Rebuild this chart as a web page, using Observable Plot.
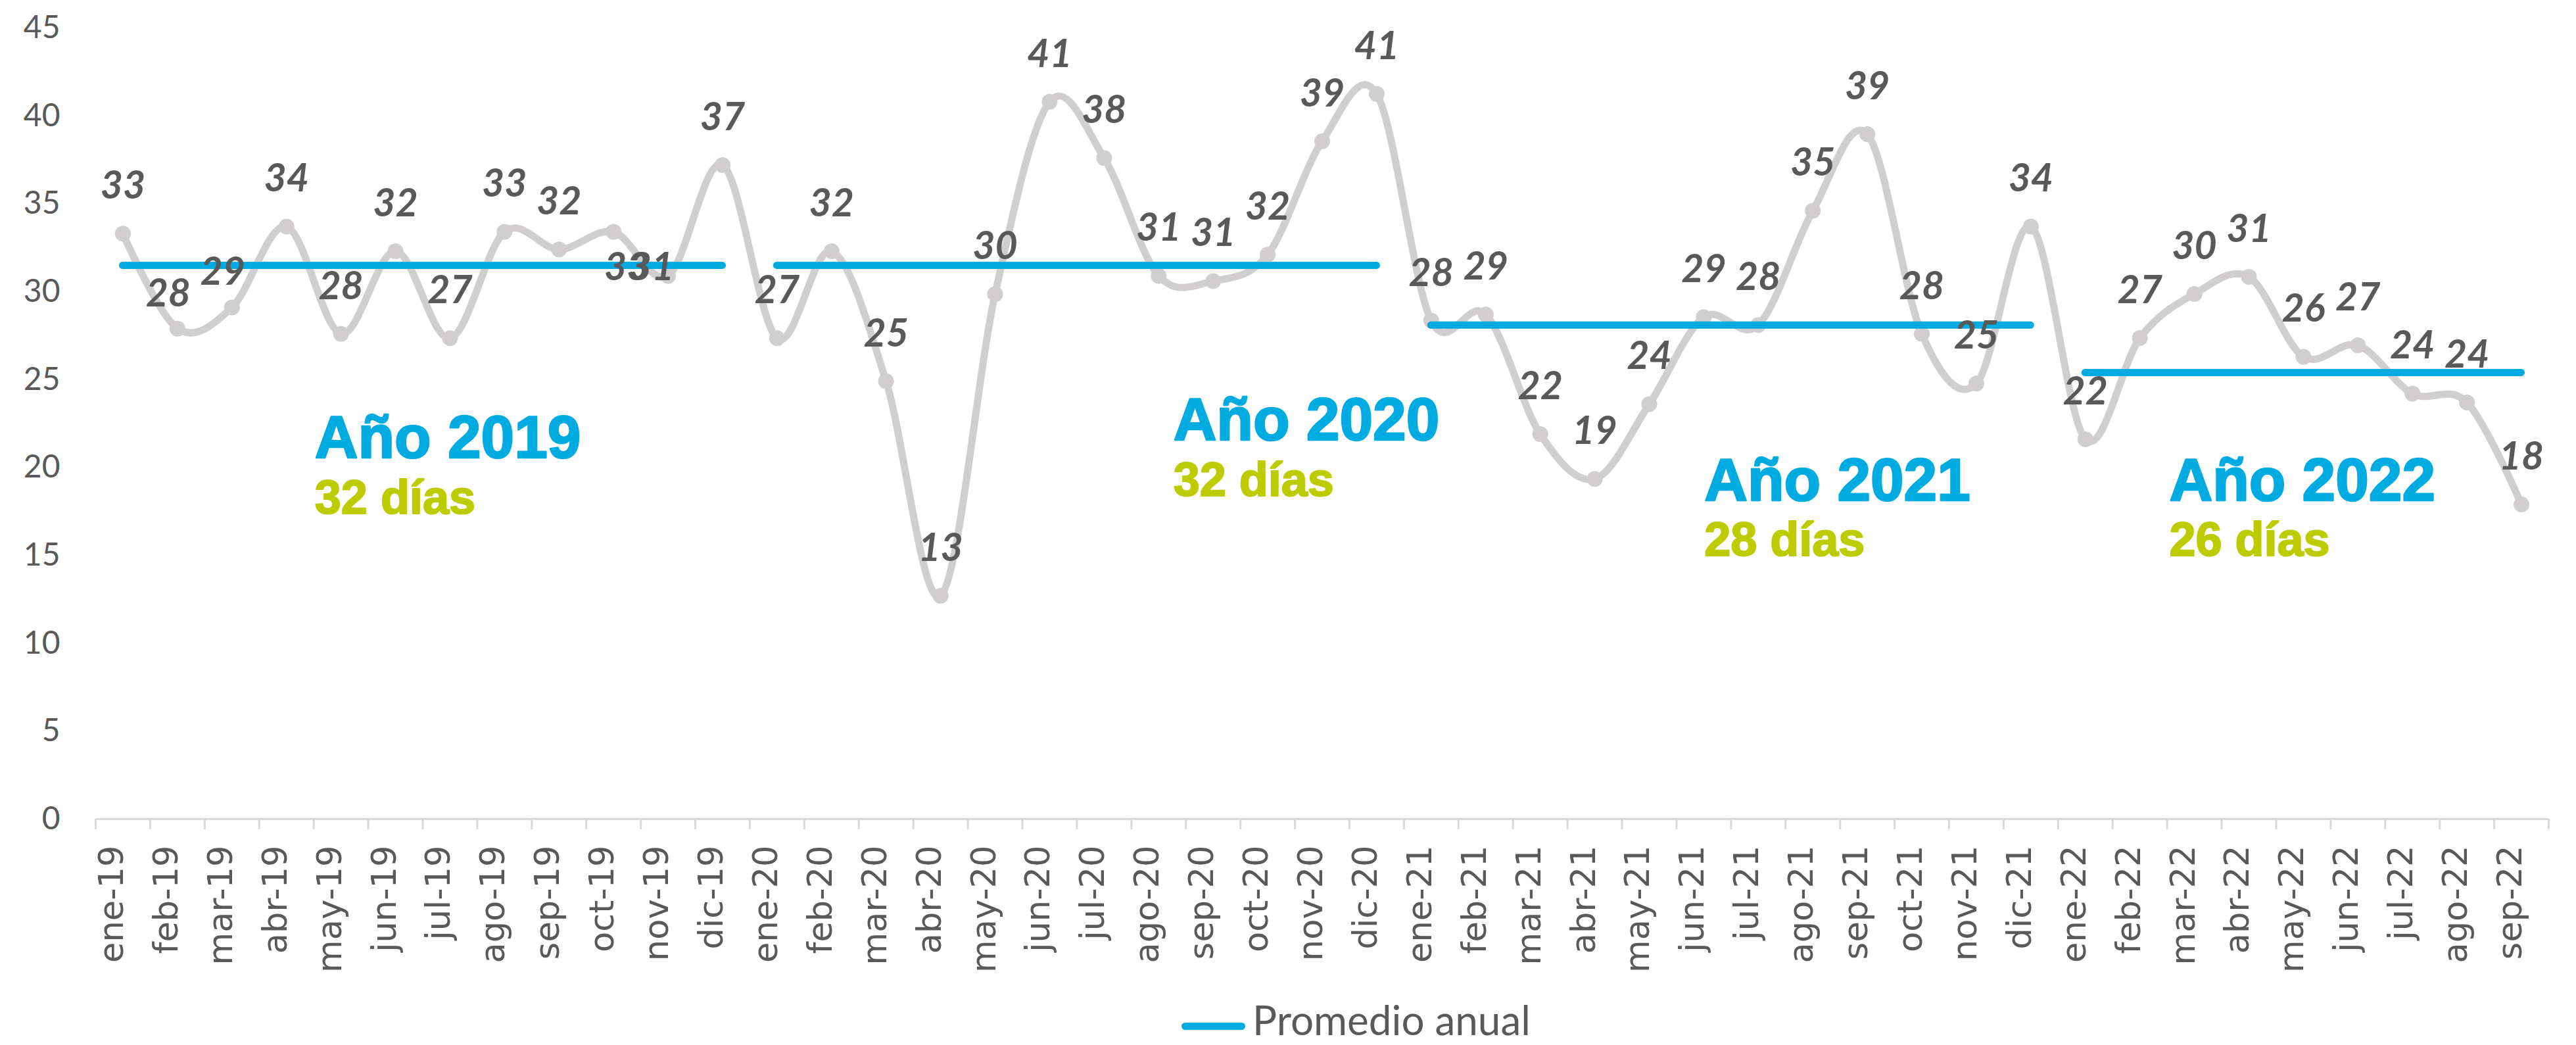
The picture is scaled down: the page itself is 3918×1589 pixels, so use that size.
<!DOCTYPE html>
<html>
<head>
<meta charset="utf-8">
<script src="https://cdn.jsdelivr.net/npm/d3@7"></script>
<script src="https://cdn.jsdelivr.net/npm/@observablehq/plot@0.6"></script>
<style>
html, body { margin: 0; padding: 0; background: #ffffff; }
#wrap { position: relative; width: 3918px; height: 1589px; overflow: hidden; background: #ffffff; }
#chart svg g[aria-label^="x-axis"] { color: #d9d9d9; }
#chart svg g[aria-label^="x-axis"] line,
#chart svg g[aria-label^="x-axis"] path { stroke-width: 3px; }
#legend { position: absolute; left: 0; top: 1500px; width: 3918px; height: 89px; }
#legend .sw { position: absolute; left: 1797px; top: 55px; width: 97px; height: 11px; border-radius: 6px; background: #00abe2; }
#legend .lt { position: absolute; left: 1905px; top: 19px; font-family: Lato, sans-serif; font-size: 62px; line-height: 62px; color: #595959; white-space: nowrap; }
</style>
</head>
<body>
<div id="wrap">
  <div id="chart"></div>
  <div id="legend"><span class="sw"></span><span class="lt"></span></div>
</div>
<script>
// ---------- data ----------
const months = [
  "ene-19","feb-19","mar-19","abr-19","may-19","jun-19","jul-19","ago-19","sep-19","oct-19","nov-19","dic-19",
  "ene-20","feb-20","mar-20","abr-20","may-20","jun-20","jul-20","ago-20","sep-20","oct-20","nov-20","dic-20",
  "ene-21","feb-21","mar-21","abr-21","may-21","jun-21","jul-21","ago-21","sep-21","oct-21","nov-21","dic-21",
  "ene-22","feb-22","mar-22","abr-22","may-22","jun-22","jul-22","ago-22","sep-22"
];
const values = [
  33.3, 27.9, 29.1, 33.7, 27.6, 32.3, 27.35, 33.4, 32.4, 33.4, 30.9, 37.2,
  27.35, 32.3, 24.9, 12.7, 29.86, 40.8, 37.6, 30.9, 30.6, 32.1, 38.56, 41.25,
  28.35, 28.7, 21.9, 19.35, 23.6, 28.55, 28.1, 34.6, 38.96, 27.6, 24.77, 33.7,
  21.6, 27.36, 29.87, 30.84, 26.3, 26.95, 24.2, 23.7, 17.9
];
const yearSuffix = ["19", "20", "21", "22"];
const yearNames = ["Año 2019", "Año 2020", "Año 2021", "Año 2022"];
const yearAverages = [31.5, 31.5, 28.1, 25.4];
const yearDays = ["32 días", "32 días", "28 días", "26 días"];
const yTicks = [0, 5, 10, 15, 20, 25, 30, 35, 40, 45];
const legendLabel = "Promedio anual";

// annotation anchors in data space (x: month index, y: value)
const annotationX = [3.52, 19.27, 29.01, 37.54];
const annotationYTitle = [20.57, 21.55, 18.14, 18.14];
const annotationYDays = [17.39, 18.40, 15.0, 15.0];

// data-label placement exceptions (default: above the point)
const labelPlacement = { "feb-19": "upLeft", "mar-19": "upLeft", "oct-19": "downRight", "nov-19": "left" };

// ---------- build ----------
const BLUE = "#00abe2", GREEN = "#bdcc00", GRAY = "#d0cece", TEXT = "#595959";

const data = months.map((m, i) => ({ i, month: m, value: values[i], place: labelPlacement[m] || "above" }));

const avgs = yearSuffix.map((s, k) => {
  const idx = months.map((m, i) => ({ m, i })).filter(d => d.m.endsWith("-" + s)).map(d => d.i);
  return { x1: d3.min(idx), x2: d3.max(idx), y: yearAverages[k] };
});

const ann = yearNames.map((n, k) => ({ x: annotationX[k], yT: annotationYTitle[k], yD: annotationYDays[k], title: n, days: yearDays[k] }));

const boundaries = d3.range(months.length + 1).map(i => i - 0.5);

const offsets = { above: [0, -72], upLeft: [-14, -53], downRight: [20, 55], left: [-25, -12] };
const labelMarks = Object.entries(offsets).map(([k, [dx, dy]]) =>
  Plot.text(data.filter(d => d.place === k), {
    x: "i", y: "value", text: d => String(Math.round(d.value)),
    dx, dy, fontFamily: "Lato", fontWeight: "bold", fontStyle: "italic", fontSize: 59, fill: TEXT
  })
);

const chart = Plot.plot({
  width: 3918,
  height: 1500,
  marginTop: 42,
  marginBottom: 255,
  marginLeft: 145,
  marginRight: 42,
  style: { fontFamily: "Lato", fontSize: "48px", color: TEXT, background: "#ffffff", overflow: "visible" },
  x: { domain: [-0.5, months.length - 0.5], ticks: boundaries, tickFormat: () => "", tickSize: 16, label: null },
  y: { domain: [0, 45], ticks: yTicks, tickSize: 0, tickPadding: 54, label: null },
  marks: [
    Plot.ruleY([0], { stroke: "#d9d9d9", strokeWidth: 3 }),
    Plot.text(data, {
      x: "i", text: "month", frameAnchor: "bottom", rotate: -90, textAnchor: "end", dy: 40,
      fontFamily: "'DejaVu Sans', 'Verdana', sans-serif", fontSize: 51, fill: TEXT
    }),
    Plot.line(data, { x: "i", y: "value", curve: "cardinal", stroke: GRAY, strokeWidth: 11, strokeLinejoin: "round", strokeLinecap: "round" }),
    Plot.dot(data, { x: "i", y: "value", r: 12, fill: GRAY }),
    Plot.ruleY(avgs, { x1: "x1", x2: "x2", y: "y", stroke: BLUE, strokeWidth: 11, strokeLinecap: "round" }),
    Plot.text(ann, { x: "x", y: "yT", text: "title", textAnchor: "start", lineAnchor: "bottom",
      fontFamily: "Liberation Sans", fontWeight: "bold", fontSize: 91, fill: BLUE, stroke: BLUE, strokeWidth: 2.5 }),
    Plot.text(ann, { x: "x", y: "yD", text: "days", textAnchor: "start", lineAnchor: "bottom",
      fontFamily: "Liberation Sans", fontWeight: "bold", fontSize: 72, fill: GREEN, stroke: GREEN, strokeWidth: 2 }),
    ...labelMarks
  ]
});

document.getElementById("chart").appendChild(chart);
document.querySelector("#legend .lt").textContent = legendLabel;
</script>
</body>
</html>
